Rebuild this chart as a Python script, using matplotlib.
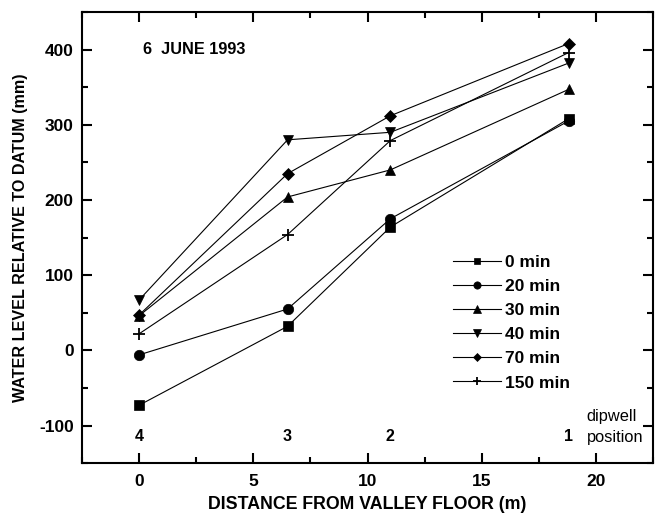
import matplotlib
matplotlib.use("Agg")
import matplotlib.pyplot as plt
from matplotlib.ticker import MultipleLocator

plt.rcParams['font.family'] = ['Liberation Sans', 'DejaVu Sans']
plt.rcParams['axes.unicode_minus'] = False
plt.rcParams['font.weight'] = 'bold'
plt.rcParams['axes.labelweight'] = 'bold'

distance = [0, 6.5, 11, 18.8]
well_labels = ['4', '3', '2', '1']
series_names = ['0 min', '20 min', '30 min', '40 min', '70 min', '150 min']
min0 = [-73, 32, 164, 308]
min20 = [-6, 55, 175, 305]
min30 = [46, 204, 240, 347]
min40 = [67, 280, 290, 382]
min70 = [47, 235, 312, 408]
min150 = [22, 154, 279, 396]

series = [min0, min20, min30, min40, min70, min150]
markers = ['s', 'o', '^', 'v', 'D', '+']
msizes = [7, 7.5, 7.5, 7.5, 6, 8]

fig = plt.figure(figsize=(6.61, 5.21), dpi=100)
ax = fig.add_axes([0.124, 0.111, 0.864, 0.866])

for vals, m, ms, name in zip(series, markers, msizes, series_names):
    ax.plot(distance, vals, color='black', lw=0.8, marker=m, ms=ms,
            mew=1.3 if m == '+' else 0.5, mfc='black', mec='black', label=name)

ax.set_xlim(-2.5, 22.5)
ax.set_ylim(-150, 450)
ax.xaxis.set_major_locator(MultipleLocator(5))
ax.xaxis.set_minor_locator(MultipleLocator(2.5))
ax.yaxis.set_major_locator(MultipleLocator(100))
ax.yaxis.set_minor_locator(MultipleLocator(50))
ax.tick_params(which='both', direction='in', top=True, right=True, width=1.5)
ax.tick_params(which='major', length=7, labelsize=12.5)
ax.tick_params(axis='x', which='major', pad=8)
ax.tick_params(axis='y', which='major', pad=6)
ax.tick_params(which='minor', length=4)
for s in ax.spines.values():
    s.set_linewidth(1.5)

ax.set_xlabel('DISTANCE FROM VALLEY FLOOR (m)', fontsize=12.8, labelpad=5)
ax.set_ylabel('WATER LEVEL RELATIVE TO DATUM (mm)', fontsize=11.6, labelpad=8)

ax.text(0.15, 400, '6  JUNE 1993', fontsize=11.7, va='center', ha='left')

for xv, lab in zip(distance, well_labels):
    ax.text(xv, -115, lab, fontsize=11.5, ha='center', va='center')
ax.text(19.6, -88, 'dipwell', fontsize=11.8, ha='left', va='center',
        fontweight='normal')
ax.text(19.6, -116, 'position', fontsize=11.8, ha='left', va='center',
        fontweight='normal')

leg = ax.legend(loc='upper left', bbox_to_anchor=(0.637, 0.478), frameon=False,
                fontsize=12.5, handlelength=2.8, handletextpad=0.2,
                labelspacing=0.52, markerscale=0.7, borderaxespad=0)

fig.savefig('out.png', dpi=100)
